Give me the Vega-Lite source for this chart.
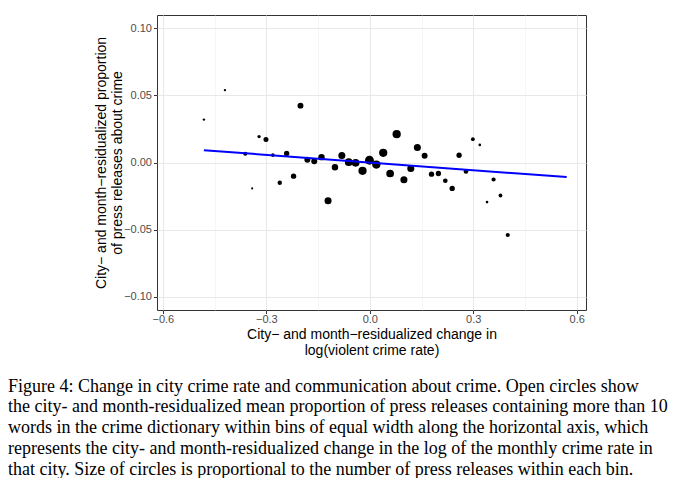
{
  "$schema": "https://vega.github.io/schema/vega-lite/v6.json",
  "width": 429,
  "height": 295,
  "autosize": "none",
  "padding": {"left": 157, "top": 15, "right": 94, "bottom": 168},
  "background": "white",
  "config": {
    "view": {"stroke": "#333333", "strokeWidth": 1},
    "font": "Liberation Sans"
  },
  "title": {
    "text": [
      "Figure 4: Change in city crime rate and communication about crime.  Open circles show",
      "the city- and month-residualized mean proportion of press releases containing more than 10",
      "words in the crime dictionary within bins of equal width along the horizontal axis, which",
      "represents the city- and month-residualized change in the log of the monthly crime rate in",
      "that city. Size of circles is proportional to the number of press releases within each bin."
    ],
    "orient": "bottom",
    "anchor": "start",
    "frame": "group",
    "dx": -149,
    "offset": 20,
    "font": "Liberation Serif",
    "fontSize": 18,
    "fontWeight": "normal",
    "lineHeight": 20.8,
    "color": "#000000"
  },
  "datasets": {
    "bins": [
      {"crime_change": -0.481, "press_prop": 0.032, "n_releases": 73},
      {"crime_change": -0.420, "press_prop": 0.054, "n_releases": 73},
      {"crime_change": -0.361, "press_prop": 0.0065, "n_releases": 220},
      {"crime_change": -0.341, "press_prop": -0.0193, "n_releases": 53},
      {"crime_change": -0.321, "press_prop": 0.0193, "n_releases": 137},
      {"crime_change": -0.301, "press_prop": 0.0171, "n_releases": 325},
      {"crime_change": -0.281, "press_prop": 0.0055, "n_releases": 160},
      {"crime_change": -0.261, "press_prop": -0.0151, "n_releases": 250},
      {"crime_change": -0.241, "press_prop": 0.0067, "n_releases": 360},
      {"crime_change": -0.221, "press_prop": -0.0102, "n_releases": 360},
      {"crime_change": -0.201, "press_prop": 0.0424, "n_releases": 450},
      {"crime_change": -0.181, "press_prop": 0.0020, "n_releases": 450},
      {"crime_change": -0.161, "press_prop": 0.0010, "n_releases": 450},
      {"crime_change": -0.140, "press_prop": 0.0040, "n_releases": 530},
      {"crime_change": -0.121, "press_prop": -0.0285, "n_releases": 640},
      {"crime_change": -0.101, "press_prop": -0.0035, "n_releases": 530},
      {"crime_change": -0.081, "press_prop": 0.0052, "n_releases": 640},
      {"crime_change": -0.061, "press_prop": 0.0002, "n_releases": 760},
      {"crime_change": -0.041, "press_prop": -0.0002, "n_releases": 760},
      {"crime_change": -0.021, "press_prop": -0.0062, "n_releases": 865},
      {"crime_change": -0.001, "press_prop": 0.0017, "n_releases": 1000},
      {"crime_change": 0.019, "press_prop": -0.0015, "n_releases": 865},
      {"crime_change": 0.039, "press_prop": 0.0072, "n_releases": 865},
      {"crime_change": 0.059, "press_prop": -0.0082, "n_releases": 760},
      {"crime_change": 0.078, "press_prop": 0.0211, "n_releases": 865},
      {"crime_change": 0.099, "press_prop": -0.0129, "n_releases": 640},
      {"crime_change": 0.119, "press_prop": -0.0045, "n_releases": 640},
      {"crime_change": 0.138, "press_prop": 0.0112, "n_releases": 640},
      {"crime_change": 0.159, "press_prop": 0.0050, "n_releases": 450},
      {"crime_change": 0.179, "press_prop": -0.0087, "n_releases": 360},
      {"crime_change": 0.199, "press_prop": -0.0082, "n_releases": 360},
      {"crime_change": 0.219, "press_prop": -0.0136, "n_releases": 280},
      {"crime_change": 0.239, "press_prop": -0.0193, "n_releases": 360},
      {"crime_change": 0.259, "press_prop": 0.0054, "n_releases": 360},
      {"crime_change": 0.279, "press_prop": -0.0067, "n_releases": 280},
      {"crime_change": 0.299, "press_prop": 0.0174, "n_releases": 185},
      {"crime_change": 0.319, "press_prop": 0.0131, "n_releases": 90},
      {"crime_change": 0.340, "press_prop": -0.0295, "n_releases": 90},
      {"crime_change": 0.359, "press_prop": -0.0127, "n_releases": 220},
      {"crime_change": 0.379, "press_prop": -0.0246, "n_releases": 185},
      {"crime_change": 0.400, "press_prop": -0.0541, "n_releases": 220}
    ],
    "fit": [
      {"crime_change": -0.481, "press_prop": 0.0092},
      {"crime_change": 0.571, "press_prop": -0.0109}
    ]
  },
  "layer": [
    {
      "data": {"name": "bins"},
      "mark": {"type": "point", "shape": "circle", "filled": true, "opacity": 1, "color": "#000000", "strokeWidth": 0},
      "encoding": {
        "x": {
          "field": "crime_change",
          "type": "quantitative",
          "scale": {"domain": [-0.617, 0.627], "nice": false, "zero": false},
          "axis": {
            "values": [-0.6, -0.45, -0.3, -0.15, 0, 0.15, 0.3, 0.45, 0.6],
            "labelExpr": "round(datum.value*100) % 30 == 0 ? replace(format(datum.value, '.1f'), '-', '−') : ''",
            "title": ["City− and month−residualized change in", "log(violent crime rate)"],
            "titleFont": "Liberation Sans",
            "titleFontSize": 14,
            "titleFontWeight": "normal",
            "titleColor": "#000000",
            "titleLineHeight": 16,
            "titlePadding": 3,
            "labelFont": "Liberation Sans",
            "labelFontSize": 11,
            "labelColor": "#4d4d4d",
            "labelPadding": 0,
            "domain": false,
            "tickColor": "#333333",
            "tickSize": 3.5,
            "tickOpacity": {"condition": {"test": "round(datum.value*100) % 30 != 0", "value": 0}, "value": 1},
            "gridColor": {"condition": {"test": "round(datum.value*100) % 30 != 0", "value": "#f0f0f0"}, "value": "#e8e8e8"},
            "gridWidth": {"condition": {"test": "round(datum.value*100) % 30 != 0", "value": 0.6}, "value": 1.1}
          }
        },
        "y": {
          "field": "press_prop",
          "type": "quantitative",
          "scale": {"domain": [-0.11, 0.11], "nice": false, "zero": false},
          "axis": {
            "values": [-0.1, -0.075, -0.05, -0.025, 0, 0.025, 0.05, 0.075, 0.1],
            "labelExpr": "round(datum.value*1000) % 50 == 0 ? replace(format(datum.value, '.2f'), '-', '−') : ''",
            "title": ["City− and month−residualized proportion", "of press releases about crime"],
            "titleFont": "Liberation Sans",
            "titleFontSize": 14,
            "titleFontWeight": "normal",
            "titleColor": "#000000",
            "titleLineHeight": 16,
            "titlePadding": -1,
            "labelFont": "Liberation Sans",
            "labelFontSize": 11,
            "labelColor": "#4d4d4d",
            "labelPadding": 2,
            "domain": false,
            "tickColor": "#333333",
            "tickSize": 3.5,
            "tickOpacity": {"condition": {"test": "round(datum.value*1000) % 50 != 0", "value": 0}, "value": 1},
            "gridColor": {"condition": {"test": "round(datum.value*1000) % 50 != 0", "value": "#f0f0f0"}, "value": "#e8e8e8"},
            "gridWidth": {"condition": {"test": "round(datum.value*1000) % 50 != 0", "value": 0.6}, "value": 1.1}
          }
        },
        "size": {
          "field": "n_releases",
          "type": "quantitative",
          "scale": {"type": "linear", "domain": [0, 1000], "range": [0, 78.5]},
          "legend": null
        }
      }
    },
    {
      "data": {"name": "fit"},
      "mark": {"type": "line", "color": "#0000ff", "strokeWidth": 2},
      "encoding": {
        "x": {"field": "crime_change", "type": "quantitative"},
        "y": {"field": "press_prop", "type": "quantitative"}
      }
    }
  ]
}
